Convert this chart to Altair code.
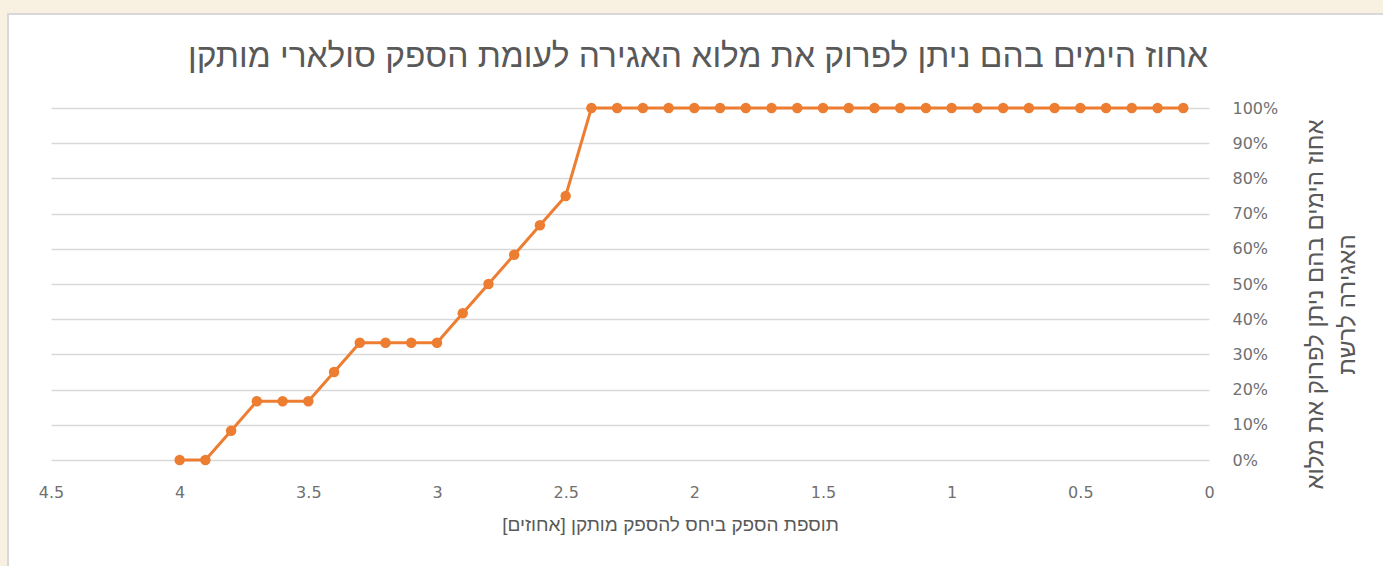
import altair as alt
import pandas as pd

# ---- data ----
added_power = [4.0, 3.9, 3.8, 3.7, 3.6, 3.5, 3.4, 3.3, 3.2, 3.1,
               3.0, 2.9, 2.8, 2.7, 2.6, 2.5, 2.4, 2.3, 2.2, 2.1,
               2.0, 1.9, 1.8, 1.7, 1.6, 1.5, 1.4, 1.3, 1.2, 1.1,
               1.0, 0.9, 0.8, 0.7, 0.6, 0.5, 0.4, 0.3, 0.2, 0.1]
pct_days = [0, 0, 8.3, 16.7, 16.7, 16.7, 25, 33.3, 33.3, 33.3,
            33.3, 41.7, 50, 58.3, 66.7, 75, 100, 100, 100, 100,
            100, 100, 100, 100, 100, 100, 100, 100, 100, 100,
            100, 100, 100, 100, 100, 100, 100, 100, 100, 100]
x_ticks = [4.5, 4, 3.5, 3, 2.5, 2, 1.5, 1, 0.5, 0]
y_ticks = [0, 10, 20, 30, 40, 50, 60, 70, 80, 90, 100]

title_text = "אחוז הימים בהם ניתן לפרוק את מלוא האגירה לעומת הספק סולארי מותקן"
x_title = "תוספת הספק ביחס להספק מותקן [אחוזים]\u200f"
y_title = ["אחוז הימים בהם ניתן לפרוק את מלוא", "האגירה לרשת"]

df = pd.DataFrame({"x": added_power, "y": pct_days})

W, H = 1158, 352
PL, PT = 51, 108
ORANGE = "#ED7D31"
TXT = "#595959"
LBL = "#707070"
HEB_FONT = "Liberation Sans, Arial, DejaVu Sans"
NUM_FONT = "DejaVu Sans"

xenc = alt.X(
    "x:Q",
    scale=alt.Scale(domain=[0, 4.5], reverse=True, nice=False, zero=False),
    axis=alt.Axis(
        values=x_ticks, format="~g", grid=False, domain=False, ticks=False,
        labelPadding=24, labelFontSize=16, labelColor=LBL, labelFont=NUM_FONT,
        labelFlush=False, labelOverlap=False,
        title=x_title, titleFont=HEB_FONT, titleFontSize=19, titleFontWeight="normal",
        titleColor=TXT, titleX=619, titleY=70, titleBaseline="alphabetic",
        titleAlign="center",
    ),
)
yenc = alt.Y(
    "y:Q",
    scale=alt.Scale(domain=[0, 100], nice=False),
    axis=alt.Axis(
        orient="right", values=y_ticks, tickCount=11, labelExpr="datum.value + '%'",
        grid=True, gridColor="#d9d9d9", gridWidth=1.5,
        domain=False, ticks=False, labelPadding=23, labelAlign="left",
        labelBaseline="middle", labelFontSize=16, labelColor=LBL, labelFont=NUM_FONT,
        labelOverlap=False, labelFlush=False,
        title=y_title, titleFont=HEB_FONT, titleFontSize=24, titleFontWeight="normal",
        titleColor=TXT, titleAngle=-90, titleX=113, titleY=196,
        titleAlign="center", titleBaseline="alphabetic", titleLineHeight=32,
    ),
)

line = alt.Chart(df).mark_line(color=ORANGE, strokeWidth=3).encode(x=xenc, y=yenc)
points = alt.Chart(df).mark_circle(color=ORANGE, size=110, opacity=1).encode(x="x:Q", y="y:Q")

one = alt.Data(values=[{"t": title_text}])
BEIGE = "#f8f0e0"
top_strip = alt.Chart(one).mark_rect(color=BEIGE).encode(
    x=alt.value(-PL), x2=alt.value(1400), y=alt.value(-PT), y2=alt.value(-95))
left_strip = alt.Chart(one).mark_rect(color=BEIGE).encode(
    x=alt.value(-PL), x2=alt.value(-44), y=alt.value(-PT), y2=alt.value(500))
card_edge = alt.Chart(one).mark_rect(fillOpacity=0, stroke="#d8d8d8", strokeWidth=2).encode(
    x=alt.value(-43), x2=alt.value(1400), y=alt.value(-94), y2=alt.value(500))
title = alt.Chart(one).mark_text(
    font=HEB_FONT, fontSize=33.5, color=TXT, align="center", baseline="alphabetic"
).encode(x=alt.value(W / 2 + 68), y=alt.value(-41), text="t:N")

chart = alt.layer(top_strip, left_strip, card_edge, title, line, points).properties(
    width=W, height=H,
    autosize="none",
    padding={"left": PL, "top": PT, "right": 1383 - PL - W, "bottom": 566 - PT - H},
    background="white",
).configure_view(stroke=None)

chart.save("out.html", embed_options={"renderer": "svg", "actions": False})
